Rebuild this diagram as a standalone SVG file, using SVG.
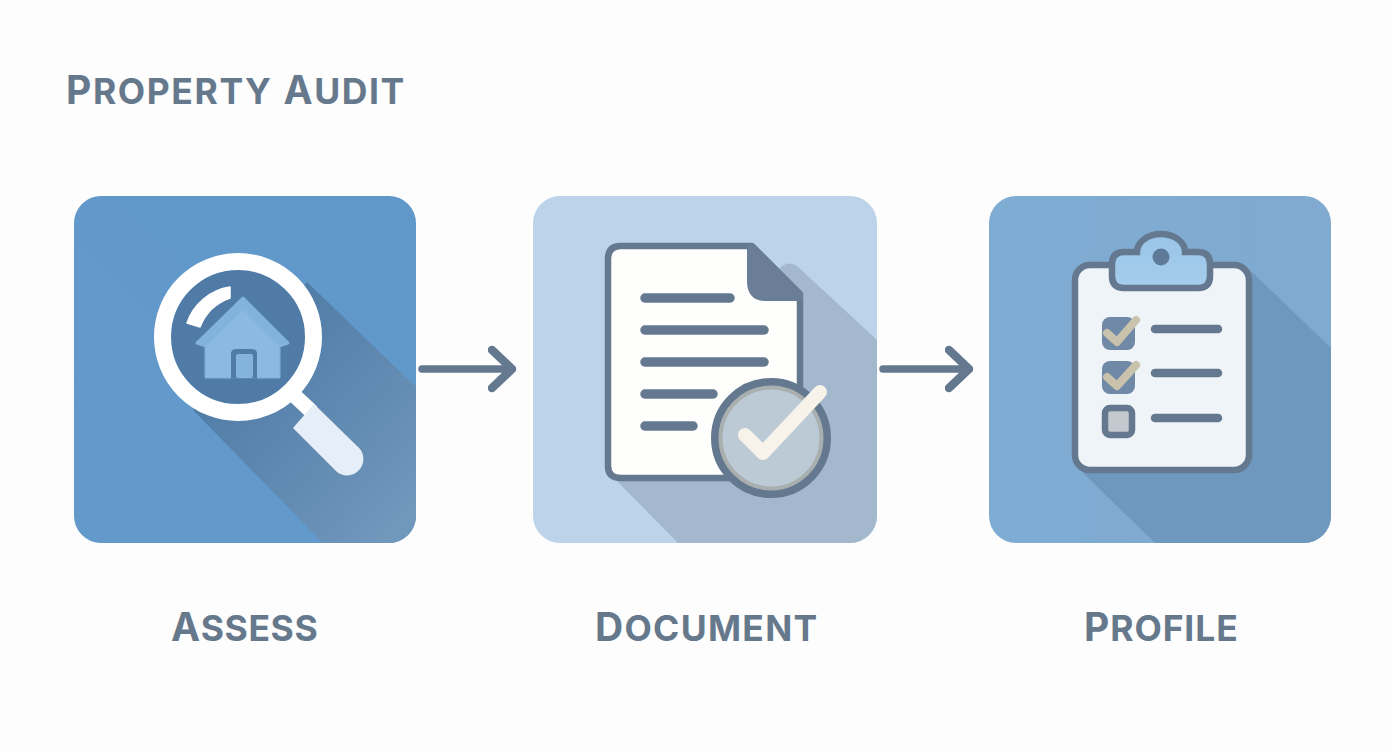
<svg xmlns="http://www.w3.org/2000/svg" width="1392" height="752" viewBox="0 0 1392 752">
<defs>
<linearGradient id="g1" x1="0" y1="1" x2="1" y2="0"><stop offset="0" stop-color="#6499cb"/><stop offset="1" stop-color="#6098ca"/></linearGradient>
<linearGradient id="s1" gradientUnits="userSpaceOnUse" x1="240" y1="340" x2="416" y2="500"><stop offset="0" stop-color="#4f7ba6"/><stop offset="1" stop-color="#7097bc"/></linearGradient>
<linearGradient id="g3" x1="0" y1="0" x2="1" y2="0"><stop offset="0" stop-color="#7facd3"/><stop offset="1" stop-color="#80aad0"/></linearGradient>
<linearGradient id="clipf" x1="0" y1="0" x2="0" y2="1"><stop offset="0" stop-color="#9ac5e8"/><stop offset="1" stop-color="#a5cdec"/></linearGradient>
<clipPath id="c1"><rect x="74" y="196" width="342" height="347" rx="27"/></clipPath>
<clipPath id="c2"><rect x="533" y="196" width="344" height="347" rx="27"/></clipPath>
<clipPath id="c3"><rect x="989" y="196" width="342" height="347" rx="27"/></clipPath>
<marker id="chev" markerUnits="userSpaceOnUse" markerWidth="34" markerHeight="56" refX="24" refY="28" orient="auto"><path d="M4,9 L24,28 L4,47" fill="none" stroke="#64798f" stroke-width="8.500" stroke-linecap="round" stroke-linejoin="round"/></marker>
</defs>
<style>
.lbl{font-family:"Inter","Liberation Sans",sans-serif;font-weight:700;fill:#66788c;font-size:39px;letter-spacing:.6px}
.sm{font-size:35.500px}
.dk{fill:none;stroke:#64798f;stroke-linecap:round}
.conn{fill:none;stroke:#64798f;stroke-width:7.500;stroke-linecap:round}
</style>
<rect width="1392" height="752" fill="#fdfdfe"/>
<text id="title" class="lbl" x="66" y="104" style="letter-spacing:1.600px">P<tspan class="sm">ROPERTY</tspan> A<tspan class="sm">UDIT</tspan></text>
<g id="connectors">
<path class="conn" d="M422,369 H512" marker-end="url(#chev)"/>
<path class="conn" d="M883,369 H969" marker-end="url(#chev)"/>
</g>
<g id="assess">
<rect x="74" y="196" width="342" height="347" rx="27" fill="url(#g1)"/>
<path clip-path="url(#c1)" d="M307,282 L416,387 V543 H323 L193,410 Z" fill="url(#s1)"/>
<circle cx="238" cy="337" r="67" fill="#4f7ba6"/>
<path d="M230,287 A54,54 0 0 0 187,323 L200,327 A50,50 0 0 1 230,298 Z" fill="#fff" stroke="#fff" stroke-width="1.500" stroke-linejoin="round"/>
<path d="M243,298 L288,343 L279,346 V377 H206 V346 L197,343 Z" fill="#82b3dc" stroke="#82b3dc" stroke-width="3" stroke-linejoin="round"/>
<path d="M243,310 L279,346 V377 H206 V346 Z" fill="#8bb9df"/>
<path d="M231,378.500 V354 Q231,349 236,349 H252 Q257,349 257,354 V378.500 Z" fill="#4f7ba6"/>
<rect x="236" y="354" width="17" height="24" rx="2" fill="#84b4dc"/>
<circle cx="238" cy="337" r="75.500" fill="none" stroke="#fff" stroke-width="17"/>
<path d="M295,396 L312,412" stroke="#fff" stroke-width="15"/>
<path d="M314,404 L357,446 A14.500,14.500 0 0 1 337,472 L293,428 Z" fill="#e6eef7"/>
<text class="lbl" x="171" y="641">A<tspan class="sm">SSESS</tspan></text>
</g>
<g id="document">
<rect x="533" y="196" width="344" height="347" rx="27" fill="#bcd3e9"/>
<path clip-path="url(#c2)" d="M780,268 Q788,260 797,266 L877,340 V543 H678 L617,481 L780,400 Z" fill="#a3b7cd"/>
<path d="M621,246 H752 L800,294 V466 Q800,478 788,478 H621 Q608,478 608,466 V259 Q608,246 621,246 Z" fill="#fefefd" stroke="#64798f" stroke-width="6.500" stroke-linejoin="round"/>
<path d="M747,245 V283 Q748,301 766,301 H803 V293 L752,243 Z" fill="#6a7f97"/>
<g class="dk" style="stroke-width:9.500">
<path d="M645,298 H730"/><path d="M645,330 H764"/><path d="M645,362 H764"/><path d="M645,394 H713"/><path d="M645,426 H693"/>
</g>
<circle cx="771" cy="438" r="56" fill="#bccad6" stroke="#64798f" stroke-width="8"/>
<circle cx="771" cy="438" r="50.500" fill="none" stroke="#a9aeae" stroke-width="4"/>
<path d="M745,435 L763,453 L820,392" fill="none" stroke="#f7f3ea" stroke-width="14" stroke-linecap="round" stroke-linejoin="round"/>
<text class="lbl" x="595" y="641" style="letter-spacing:1.300px">D<tspan class="sm">OCUMENT</tspan></text>
</g>
<g id="profile">
<rect x="989" y="196" width="342" height="347" rx="27" fill="url(#g3)"/>
<path clip-path="url(#c3)" d="M1252,272 L1331,348 V543 H1155 L1083,473 Z" fill="#6f98bf"/>
<rect x="1075" y="265" width="174" height="205" rx="15" fill="#eff4f9" stroke="#64798f" stroke-width="6.500"/>
<path d="M1124,252 H1137 A24,18 0 0 1 1185,252 H1198 Q1210,252 1210,264 V276 Q1210,288 1198,288 H1124 Q1112,288 1112,276 V264 Q1112,252 1124,252 Z" fill="url(#clipf)" stroke="#64798f" stroke-width="6.500"/>
<circle cx="1161" cy="257" r="8.500" fill="#5f7a98"/>
<rect x="1102" y="317" width="33" height="33" rx="8" fill="#7089a7"/>
<rect x="1102" y="361" width="33" height="33" rx="8" fill="#7089a7"/>
<rect x="1105" y="408" width="27" height="27" rx="5" fill="#c3c9cf" stroke="#64798f" stroke-width="6.500"/>
<g fill="none" stroke="#c9c2ad" stroke-width="8" stroke-linecap="round" stroke-linejoin="round">
<path d="M1107,333 L1117,342 L1136,320"/><path d="M1107,377 L1117,386 L1136,365"/>
</g>
<g class="dk" style="stroke-width:8.500">
<path d="M1155,329 H1218"/><path d="M1155,373 H1218"/><path d="M1155,418 H1218"/>
</g>
<text class="lbl" x="1084" y="641" style="letter-spacing:.9px">P<tspan class="sm">ROFILE</tspan></text>
</g>
</svg>
